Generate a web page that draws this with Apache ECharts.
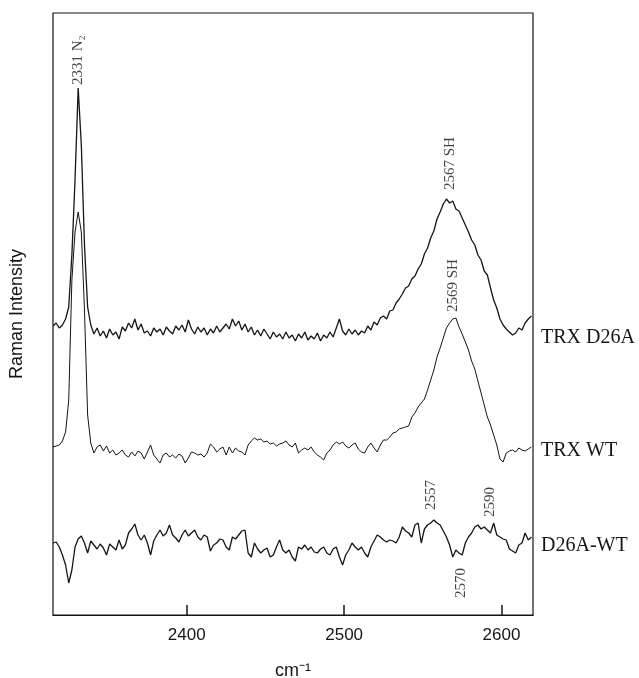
<!DOCTYPE html>
<html>
<head>
<meta charset="utf-8">
<script src="https://cdn.jsdelivr.net/npm/echarts@6/dist/echarts.min.js"></script>
<style>
  html, body { margin: 0; padding: 0; background: #fff; }
  #ramanChart { width: 639px; height: 678px; }
</style>
</head>
<body>
<div id="ramanChart"></div>
<script>
// spectra sampled every 2 cm-1 starting at 2315 (intensity in arbitrary units, offset per trace)
const startCm = 2315;
const stepCm = 2;

const trxD26A = [
  289,292,287,290,296,308,360,435,527,470,
  370,308,290,281,287,279,284,277,286,280,
  283,276,288,284,292,287,296,285,291,282,
  284,279,287,283,286,280,288,284,281,289,
  285,290,283,295,286,281,288,283,287,280,
  286,282,289,283,287,291,286,296,289,294,
  285,291,283,288,280,285,279,286,281,276,
  283,278,281,276,283,277,280,274,281,277,
  283,275,279,276,282,274,280,277,283,278,
  287,296,284,280,286,281,285,280,284,282,
  289,285,293,290,297,299,296,304,305,312,
  316,321,327,329,336,339,346,351,361,367,
  377,384,396,403,411,416,412,414,406,404,
  397,390,383,375,370,360,355,344,340,327,
  315,307,296,290,286,283,280,282,287,285,
  292,296,299
];

const trxWT = [
  168,169,170,174,183,215,335,383,403,383,
  305,200,172,162,168,170,164,169,162,165,
  160,162,165,160,158,163,159,164,162,156,
  163,170,160,156,152,160,162,158,160,157,
  161,159,152,157,163,162,160,161,158,162,
  171,168,163,166,168,160,168,162,167,164,
  163,160,170,174,177,175,176,173,174,171,
  172,169,171,172,174,170,168,172,162,165,
  167,165,168,163,160,158,155,162,165,170,
  173,171,173,169,167,170,172,166,163,162,
  168,172,167,163,170,175,175,178,182,183,
  186,187,188,189,198,202,208,212,216,225,
  235,245,258,267,277,287,292,296,297,288,
  281,273,265,254,246,234,222,210,198,190,
  180,170,156,153,162,164,165,163,167,165,
  164,166,168
];

const diffD26AWT = [
  72,73,68,60,50,32,45,68,76,79,
  72,62,74,70,66,71,67,60,71,68,
  65,75,66,70,82,86,91,80,75,80,
  72,60,74,80,85,79,82,90,80,77,
  73,80,85,79,82,85,78,75,80,78,
  64,70,72,76,75,68,65,78,76,80,
  84,85,62,58,72,66,62,65,67,58,
  60,68,75,65,62,65,58,54,68,66,
  70,65,68,63,62,66,68,62,60,66,
  68,58,50,60,65,72,68,65,68,62,
  58,68,74,80,78,75,73,75,74,72,
  78,88,84,82,78,90,92,72,86,90,
  92,95,92,90,84,78,70,58,65,62,
  60,72,78,82,88,90,86,88,85,82,
  92,80,78,76,75,66,64,62,70,72,
  82,75,78
];

const xTicks = [2400, 2500, 2600];
const traceNames = ['TRX D26A', 'TRX WT', 'D26A-WT'];

// peak annotations: text, wavenumber, intensity where the text starts
const annoLabels = ['2331 N\u2082', '2567 SH', '2569 SH', '2557', '2590', '2570'];
const annoX = [2331, 2567, 2569, 2555, 2593, 2574];
const annoY = [530, 425, 303, 105, 98, 17];

const wavenumbers = [];
for (let i = 0; i < trxD26A.length; i++) wavenumbers.push(startCm + i * stepCm);

function pairUp(values) {
  return values.map((v, i) => [wavenumbers[i], v]);
}

const chart = echarts.init(document.getElementById('ramanChart'));
const serif = '"Liberation Serif", "Times New Roman", serif';
const sans = '"Liberation Sans", Arial, sans-serif';
const ink = '#151515';

const lineSeries = [trxD26A, trxWT, diffD26AWT].map((vals, idx) => ({
  name: traceNames[idx],
  type: 'line',
  data: pairUp(vals),
  showSymbol: false,
  symbol: 'none',
  silent: true,
  lineStyle: { color: ink, width: idx === 1 ? 1 : 1.3 }
}));

// axisTick doesn't draw on this x axis, so the short inward ticks go in as a markLine
lineSeries[0].markLine = {
  silent: true,
  symbol: 'none',
  label: { show: false },
  lineStyle: { color: ink, width: 1.5, type: 'solid' },
  data: xTicks.map(t => [{ coord: [t, 0] }, { coord: [t, 10] }])
};

chart.setOption({
  animation: false,
  backgroundColor: '#fff',
  grid: {
    left: 53, right: 106, top: 13, bottom: 63,
    outerBoundsMode: 'none',
    containLabel: false,
    show: true, borderColor: ink, borderWidth: 1.2
  },
  xAxis: {
    type: 'value',
    min: 2315,
    max: 2620,
    splitNumber: 3,
    name: 'cm\u207B\u00B9',
    nameLocation: 'middle',
    nameGap: 47,
    nameTextStyle: { fontFamily: sans, fontSize: 18, color: ink },
    axisLine: { show: true, lineStyle: { color: ink, width: 1.2 } },
    axisTick: { show: false },
    axisLabel: {
      show: true, margin: 12, fontFamily: sans, fontSize: 17, color: ink,
      showMinLabel: false, showMaxLabel: false,
      formatter: v => (v % 100 === 0 ? String(v) : '')
    },
    splitLine: { show: false }
  },
  yAxis: {
    type: 'value',
    min: 0,
    max: 602,
    name: 'Raman Intensity',
    nameLocation: 'middle',
    nameGap: 27,
    nameTextStyle: { fontFamily: sans, fontSize: 18, color: ink },
    axisLine: { show: false },
    axisTick: { show: false },
    axisLabel: { show: false },
    splitLine: { show: false }
  },
  series: lineSeries.concat([{
    name: 'annotations',
    type: 'scatter',
    symbolSize: 0,
    silent: true,
    data: annoLabels.map((t, i) => ({ name: t, value: [annoX[i], annoY[i]] })),
    label: {
      show: true,
      formatter: p => p.name,
      position: [0, 0],
      rotate: 90,
      align: 'left',
      verticalAlign: 'middle',
      fontFamily: serif,
      fontSize: 15,
      color: ink
    }
  }]),
  graphic: traceNames.map((t, i) => ({
    type: 'text',
    left: 541,
    top: [328, 441, 536][i],
    silent: true,
    style: { text: t, font: '20px ' + serif, fill: ink }
  }))
});
</script>
</body>
</html>
